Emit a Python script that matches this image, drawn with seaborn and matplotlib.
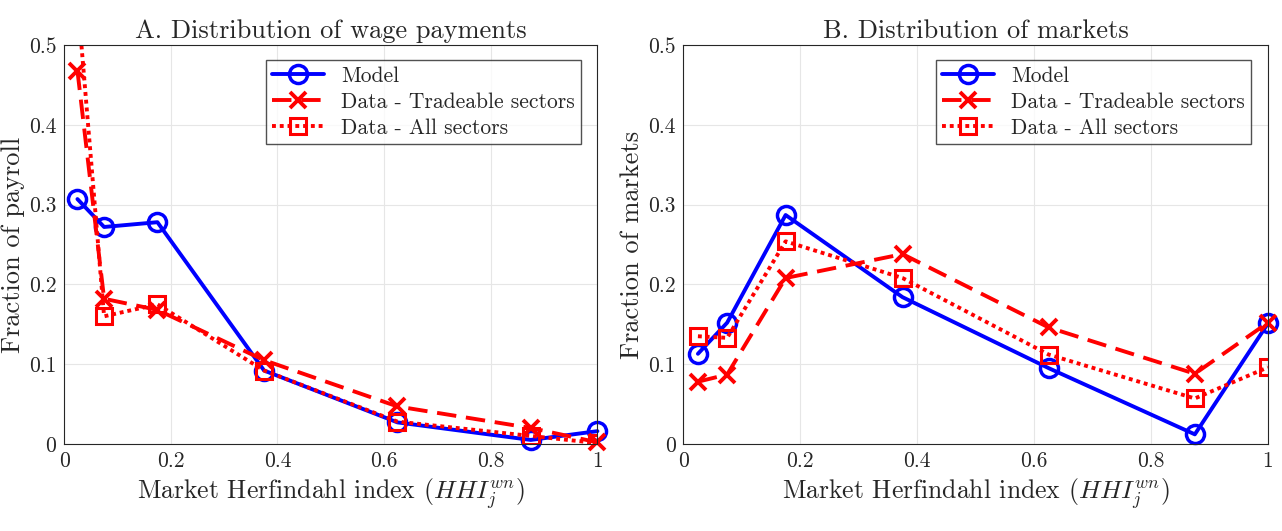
import numpy as np
import pandas as pd
import matplotlib
matplotlib.use("Agg")
import matplotlib.pyplot as plt
import seaborn as sns

# данные
hhi = [0.025, 0.075, 0.175, 0.375, 0.625, 0.875, 1.0]

payroll_model = [0.307, 0.272, 0.278, 0.092, 0.027, 0.005, 0.016]
payroll_trade = [0.468, 0.182, 0.168, 0.105, 0.047, 0.020, 0.002]
payroll_all = [0.56, 0.160, 0.175, 0.092, 0.028, 0.010, 0.001]

markets_model = [0.113, 0.152, 0.287, 0.184, 0.095, 0.012, 0.151]
markets_trade = [0.078, 0.087, 0.208, 0.238, 0.146, 0.088, 0.152]
markets_all = [0.135, 0.133, 0.254, 0.208, 0.112, 0.057, 0.096]

sns.set_style("whitegrid")
plt.rcParams['font.family'] = ['cmr10', 'DejaVu Serif']
plt.rcParams['mathtext.fontset'] = 'cm'
plt.rcParams['axes.formatter.use_mathtext'] = True

fig = plt.figure(figsize=(12.82, 5.31), dpi=100)
axA = fig.add_axes([0.050, 0.164, 0.416, 0.751])
axB = fig.add_axes([0.533, 0.164, 0.456, 0.751])

def draw(ax, model, trade, allsec, title, ylabel):
    ax.plot(hhi, model, color='#0000ff', lw=2.8, marker='o', ms=13,
            mfc='none', mew=2.5, label='Model', clip_on=False)
    ax.plot(hhi, trade, color='#ff0000', lw=2.8, marker='x', ms=11,
            mew=2.8, ls=(0, (5, 2.5)), label='Data - Tradeable sectors', clip_on=False)
    ax.plot(hhi, allsec, color='#ff0000', lw=2.8, marker='s', ms=11,
            mfc='none', mew=2.2, ls=(0, (1, 1)), label='Data - All sectors')
    ax.set_xlim(0, 1)
    ax.set_ylim(0, 0.5)
    ax.set_xticks([0, 0.2, 0.4, 0.6, 0.8, 1.0])
    ax.set_xticklabels(['0', '0.2', '0.4', '0.6', '0.8', '1'])
    ax.set_yticks([0, 0.1, 0.2, 0.3, 0.4, 0.5])
    ax.set_yticklabels(['0', '0.1', '0.2', '0.3', '0.4', '0.5'])
    ax.tick_params(labelsize=15.5, pad=2)
    ax.set_title(title, fontsize=19, pad=5)
    ax.set_xlabel(r'Market Herfindahl index ($HHI_j^{wn}$)', fontsize=18.5)
    ax.set_ylabel(ylabel, fontsize=19, labelpad=3)
    ax.grid(True, color='#e6e6e6', lw=0.8)
    for s in ax.spines.values():
        s.set_color('#262626')
        s.set_linewidth(0.8)
    leg = ax.legend(loc='upper right', fontsize=15.5, frameon=True, fancybox=False,
                    handlelength=2.4, borderpad=0.3, labelspacing=0.3,
                    bbox_to_anchor=(0.99, 0.99))
    leg.get_frame().set_edgecolor('#262626')

draw(axA, payroll_model, payroll_trade, payroll_all,
     'A. Distribution of wage payments', 'Fraction of payroll')
draw(axB, markets_model, markets_trade, markets_all,
     'B. Distribution of markets', 'Fraction of markets')

fig.savefig('out.png', dpi=100)
